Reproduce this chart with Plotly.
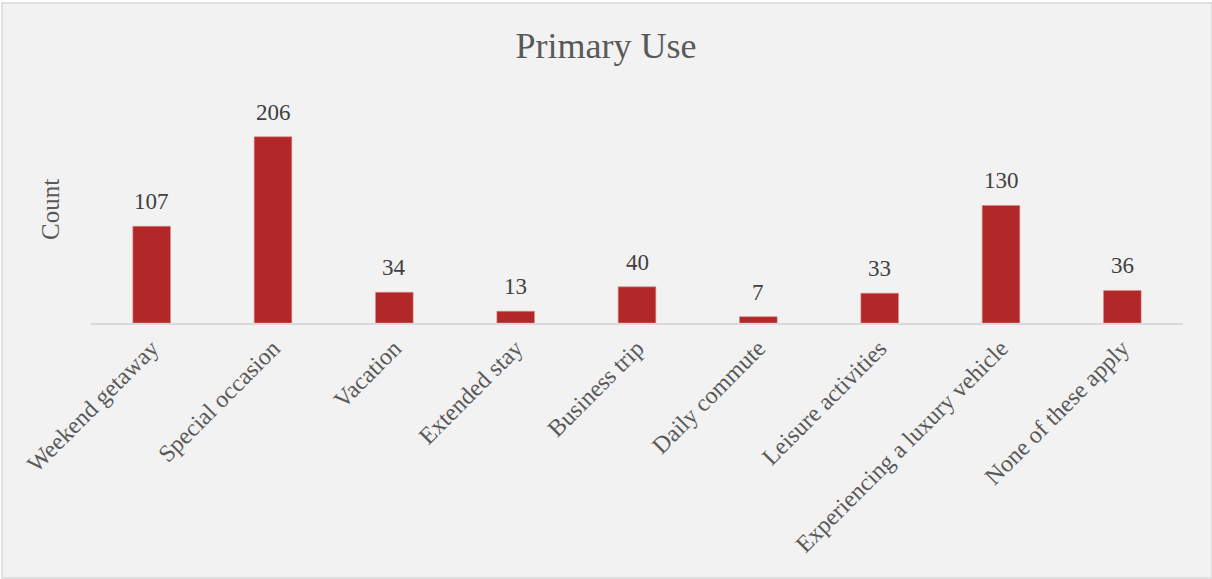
import plotly.graph_objects as go

categories = [
    "Weekend getaway", "Special occasion", "Vacation", "Extended stay",
    "Business trip", "Daily commute", "Leisure activities",
    "Experiencing a luxury vehicle", "None of these apply",
]
counts = [107, 206, 34, 13, 40, 7, 33, 130, 36]

SERIF = "Liberation Serif, Times New Roman, serif"
BAR_COLOR = "#B22828"

fig = go.Figure(
    go.Bar(
        x=categories,
        y=counts,
        marker=dict(color=BAR_COLOR, line=dict(color="#D98A8A", width=0.6)),
        width=0.31,
        hoverinfo="x+y",
    )
)

# value labels above each bar
for cat, val in zip(categories, counts):
    fig.add_annotation(
        x=cat, y=val, xref="x", yref="y",
        text=str(val), showarrow=False,
        yanchor="bottom", yshift=10,
        font=dict(family=SERIF, size=23, color="#404040"),
    )

# y-axis title
fig.add_annotation(
    x=-41 / 1092, y=0.5, xref="paper", yref="paper",
    text="Count", textangle=-90, showarrow=False,
    xanchor="center", yanchor="middle",
    font=dict(family=SERIF, size=25, color="#595959"),
)

# chart frame
fig.add_shape(
    type="rect", xref="paper", yref="paper",
    x0=-89 / 1092, x1=1121 / 1092, y0=-255 / 226, y1=320 / 226,
    line=dict(color="#D9D9D9", width=1.5), fillcolor="#F2F2F2", layer="below",
)

fig.update_layout(
    width=1212, height=579,
    margin=dict(l=91, r=29, t=97, b=256),
    paper_bgcolor="white",
    plot_bgcolor="rgba(0,0,0,0)",
    showlegend=False,
    title=dict(
        text="Primary Use", x=0.5, xanchor="center", y=1 - 45 / 579, yanchor="middle",
        font=dict(family=SERIF, size=36, color="#595959"),
    ),
    xaxis=dict(
        tickangle=-45, showgrid=False, zeroline=False,
        showline=True, linecolor="#D9D9D9", linewidth=1.5,
        ticks="", tickfont=dict(family=SERIF, size=24, color="#595959"),
    ),
    yaxis=dict(
        range=[0, 250], showgrid=False, zeroline=False,
        showticklabels=False, ticks="", showline=False,
    ),
)

fig.write_html("out.html")
